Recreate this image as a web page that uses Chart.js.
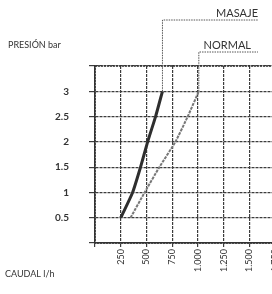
<!DOCTYPE html>
<html>
<head>
<meta charset="utf-8">
<script src="https://cdn.jsdelivr.net/npm/chart.js@4/dist/chart.umd.min.js"></script>
<style>
  html, body { margin: 0; padding: 0; background: #fff; overflow: hidden; }
  #wrap { position: absolute; left: 0; top: 0; width: 301px; height: 294px; }
</style>
</head>
<body>
<div id="wrap"><canvas id="grafico" width="301" height="294"></canvas></div>
<script>
// caudal (l/h) y presion (bar)
const caudalMasaje = [250, 365, 442, 511, 588, 655];
const presionMasaje = [0.5, 1, 1.5, 2, 2.5, 3];
const caudalNormal = [345, 482, 625, 780, 900, 1008];
const presionNormal = [0.5, 1, 1.5, 2, 2.5, 3];

const xTicks = [250, 500, 750, 1000, 1250, 1500, 1750];
const xTickLabels = ['250', '500', '750', '1.000', '1.250', '1.500', '1.750'];
const yTicks = [0.5, 1, 1.5, 2, 2.5, 3];
const yTickLabels = ['0.5', '1', '1.5', '2', '2.5', '3'];

const serieNames = ['MASAJE', 'NORMAL'];
const tituloY = 'PRESIÓN bar';
const tituloX = 'CAUDAL l/h';

const fuente = 'Lato';
const gris = '#3c3c3c';

const puntos = (xs, ys) => xs.map((x, i) => ({ x: x, y: ys[i] }));

// marco punteado, lineas guia y titulos
const etiquetas = {
    id: 'etiquetas',
    beforeDatasetsDraw(chart) {
        const a = chart.chartArea;
        const ctx = chart.ctx;
        ctx.save();
        ctx.strokeStyle = '#333';
        ctx.lineWidth = 1.5;
        ctx.setLineDash([2, 1]);
        ctx.strokeRect(a.left, a.top, a.right - a.left, a.bottom - a.top);
        ctx.restore();
    },
    afterDatasetsDraw(chart) {
        const ctx = chart.ctx;
        const alturas = [20, 52];
        const finTexto = [258, 251];
        ctx.save();
        ctx.strokeStyle = '#555';
        ctx.lineWidth = 1;
        ctx.setLineDash([1.5, 1]);
        ctx.fillStyle = '#333';
        ctx.font = '11px ' + fuente;
        ctx.textAlign = 'right';
        ctx.textBaseline = 'alphabetic';
        chart.data.datasets.forEach((ds, i) => {
            const meta = chart.getDatasetMeta(i);
            const p = meta.data[meta.data.length - 1];
            const yTop = alturas[i];
            ctx.beginPath();
            ctx.moveTo(p.x, p.y);
            ctx.lineTo(p.x, yTop);
            ctx.lineTo(258, yTop);
            ctx.stroke();
            ctx.fillText(serieNames[i], finTexto[i], yTop - 3);
        });
        ctx.setLineDash([]);
        ctx.textAlign = 'left';
        ctx.font = '9px ' + fuente;
        ctx.fillText(tituloY, 8, 48);
        ctx.fillText(tituloX, 5, 277);
        ctx.restore();
    }
};

new Chart(document.getElementById('grafico'), {
    type: 'scatter',
    data: {
        datasets: [{
            label: serieNames[0],
            data: puntos(caudalMasaje, presionMasaje),
            showLine: true,
            borderColor: '#2e2e2e',
            borderWidth: 3,
            pointRadius: 0,
            tension: 0.2
        }, {
            label: serieNames[1],
            data: puntos(caudalNormal, presionNormal),
            showLine: true,
            borderColor: '#777',
            borderWidth: 2,
            borderDash: [3, 1],
            pointRadius: 0,
            tension: 0.2
        }]
    },
    options: {
        responsive: false,
        animation: false,
        layout: { padding: { top: 66, right: 0, left: 0, bottom: 0 } },
        plugins: {
            legend: { display: false },
            tooltip: { enabled: false }
        },
        scales: {
            x: {
                type: 'linear',
                min: 0,
                max: 2000,
                afterFit: (s) => { s.height = 51; s.paddingRight = 0; },
                afterBuildTicks: (s) => {
                    s.ticks = [0].concat(xTicks, [2000]).map(v => ({ value: v }));
                },
                grid: { color: gris, lineWidth: 1.2, tickLength: 4 },
                border: { color: '#333', width: 1.5, dash: [3, 1] },
                ticks: {
                    autoSkip: false,
                    maxRotation: 90,
                    minRotation: 90,
                    padding: 2,
                    color: '#333',
                    font: { family: fuente, size: 9 },
                    callback: (v) => {
                        const i = xTicks.indexOf(v);
                        return i >= 0 ? xTickLabels[i] : '';
                    }
                }
            },
            y: {
                type: 'linear',
                min: 0,
                max: 3.5,
                afterFit: (s) => { s.width = 95; },
                afterBuildTicks: (s) => {
                    s.ticks = [0].concat(yTicks, [3.5]).map(v => ({ value: v }));
                },
                grid: { color: gris, lineWidth: 1.2, tickLength: 6 },
                border: { color: '#333', width: 1.5, dash: [3, 1] },
                ticks: {
                    padding: 20,
                    color: '#333',
                    font: { family: fuente, size: 10, weight: 'bold' },
                    callback: (v) => {
                        const i = yTicks.indexOf(v);
                        return i >= 0 ? yTickLabels[i] : '';
                    }
                }
            }
        }
    },
    plugins: [etiquetas]
});
</script>
</body>
</html>
